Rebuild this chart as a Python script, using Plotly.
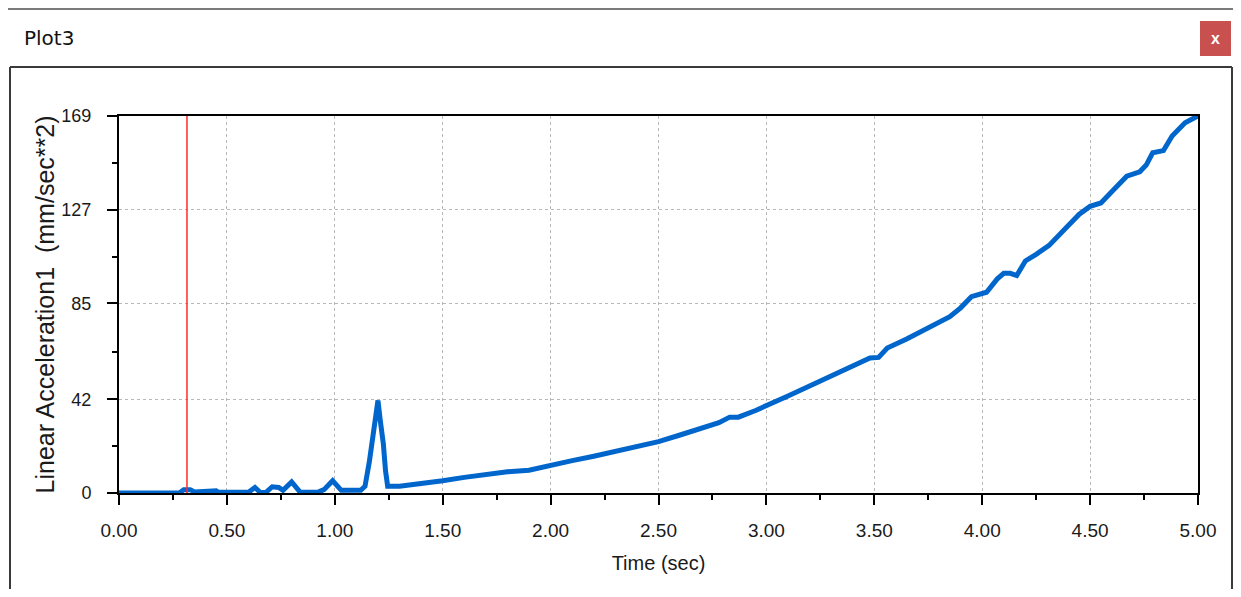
import plotly.graph_objects as go

# ---- data ----
time_s = [0.00, 0.28, 0.30, 0.33, 0.35, 0.40, 0.42, 0.45, 0.46, 0.60, 0.63, 0.655, 0.68,
          0.71, 0.74, 0.76, 0.80, 0.84, 0.92, 0.95, 0.99, 1.03, 1.12, 1.14, 1.16, 1.175,
          1.19, 1.20, 1.21, 1.225, 1.235, 1.245, 1.30, 1.35, 1.40, 1.45, 1.50, 1.60, 1.70,
          1.80, 1.90, 2.00, 2.10, 2.20, 2.30, 2.40, 2.50, 2.60, 2.70, 2.78, 2.83, 2.87,
          2.95, 3.00, 3.10, 3.20, 3.30, 3.40, 3.48, 3.52, 3.56, 3.65, 3.75, 3.85, 3.90,
          3.95, 4.02, 4.07, 4.10, 4.13, 4.16, 4.20, 4.25, 4.31, 4.39, 4.45, 4.50, 4.55,
          4.60, 4.67, 4.73, 4.76, 4.79, 4.84, 4.88, 4.94, 5.00]
accel = [0.0, 0.0, 1.5, 1.5, 0.5, 0.5, 1.0, 1.0, 0.3, 0.3, 2.5, 0.2, 0.2,
         2.8, 2.5, 1.2, 5.0, 0.3, 0.3, 1.5, 5.5, 1.2, 1.2, 3.0, 14.0, 25.0,
         33.0, 41.5, 33.0, 22.0, 10.0, 3.0, 3.0, 3.5, 4.2, 4.8, 5.5, 7.0, 8.5,
         9.5, 10.2, 12.5, 14.5, 16.5, 18.5, 21.0, 23.0, 26.0, 29.0, 31.5, 34.0, 34.0,
         37.0, 39.0, 43.5, 48.0, 52.5, 57.0, 60.5, 60.8, 65.0, 69.0, 74.0, 79.0, 83.0,
         88.0, 90.0, 96.0, 98.5, 98.5, 97.5, 104.0, 107.0, 111.0, 119.0, 125.0, 128.5, 130.0,
         135.0, 142.0, 144.0, 147.0, 152.5, 153.5, 160.0, 166.0, 169.0]

y_ticks = [0, 42, 85, 127, 169]
y_minor_ticks = [21, 63, 106, 148]
x_ticks = [0.0, 0.5, 1.0, 1.5, 2.0, 2.5, 3.0, 3.5, 4.0, 4.5, 5.0]
x_tick_labels = ["0.00", "0.50", "1.00", "1.50", "2.00", "2.50", "3.00", "3.50", "4.00", "4.50", "5.00"]
cursor_time = 0.315

panel_title = "Plot3"
x_title = "Time (sec)"
y_title = "Linear Acceleration1\u00a0 (mm/sec**2)"

# ---- layout geometry (window pixels; page body has an 8px default margin) ----
OFF = 8
WIN_W, WIN_H = 1241, 597
W, H = WIN_W - OFF, WIN_H - 2 * OFF
L, R, T, B = 119, 1198, 116, 493   # plot area in window pixels


def px(x):
    return (x - L) / (R - L)


def py(y):
    return (B - y) / (B - T)


FONT = "Liberation Sans, Arial, sans-serif"

fig = go.Figure()
fig.add_trace(go.Scatter(
    x=time_s, y=accel, mode="lines",
    line=dict(color="#0066cc", width=5),
    hoverinfo="x+y", showlegend=False,
))

fig.add_vline(x=cursor_time, line=dict(color="#ff2a2a", width=1.5), layer="above")

fig.update_layout(
    width=W, height=H, autosize=False,
    margin=dict(l=L - OFF, r=(OFF + W) - R, t=T - OFF, b=(OFF + H) - B, pad=0),
    paper_bgcolor="white", plot_bgcolor="white",
    font=dict(family=FONT, color="#1a1a1a"),
    showlegend=False,
)

fig.update_xaxes(
    range=[0, 5], tickvals=x_ticks, ticktext=x_tick_labels,
    showline=True, linecolor="black", linewidth=2, mirror=True,
    ticks="outside", ticklen=10, tickwidth=2, tickcolor="black",
    ticklabelstandoff=9,
    tickfont=dict(size=19, family=FONT, color="#1a1a1a"),
    showgrid=True, gridcolor="#b8b8b8", griddash="dot", gridwidth=1,
    zeroline=False,
    minor=dict(dtick=0.25, tick0=0, ticks="outside", ticklen=5, tickwidth=2,
               tickcolor="black", showgrid=False),
    title=dict(text=x_title, font=dict(size=20, family=FONT, color="#1a1a1a"), standoff=16),
)
fig.update_yaxes(
    range=[0, 169], tickvals=y_ticks,
    showline=True, linecolor="black", linewidth=2, mirror=True,
    ticks="outside", ticklen=10, tickwidth=2, tickcolor="black",
    ticklabelstandoff=12,
    tickfont=dict(size=18, family=FONT, color="#1a1a1a"),
    showgrid=True, gridcolor="#b8b8b8", griddash="dot", gridwidth=1,
    zeroline=False,
    minor=dict(tickmode="array", tickvals=y_minor_ticks, ticks="outside", ticklen=5,
               tickwidth=2, tickcolor="black", showgrid=False),
    title=dict(text=y_title, font=dict(size=25, family=FONT, color="#1a1a1a"), standoff=0),
)

# ---- window decorations ----
shapes = [
    # top grey separator
    dict(type="line", xref="paper", yref="paper", x0=px(OFF), x1=px(WIN_W), y0=py(9), y1=py(9),
         line=dict(color="#7a7a7a", width=2)),
    # panel border (left, top, right drawn as lines)
    dict(type="line", xref="paper", yref="paper", x0=px(10), x1=px(1232), y0=py(67), y1=py(67),
         line=dict(color="#3a3a3a", width=2)),
    dict(type="line", xref="paper", yref="paper", x0=px(10), x1=px(10), y0=py(67), y1=py(WIN_H),
         line=dict(color="#3a3a3a", width=2)),
    dict(type="line", xref="paper", yref="paper", x0=px(1232), x1=px(1232), y0=py(67), y1=py(WIN_H),
         line=dict(color="#3a3a3a", width=2)),
    # close button
    dict(type="rect", xref="paper", yref="paper", x0=px(1200), x1=px(1231), y0=py(21), y1=py(56),
         line=dict(width=0), fillcolor="#c8504f"),
]
for s in shapes:
    fig.add_shape(**s)

fig.add_annotation(xref="paper", yref="paper", x=px(22), y=py(38), xanchor="left", yanchor="middle",
                   text=panel_title, showarrow=False,
                   font=dict(size=20, family="DejaVu Sans, sans-serif", color="#111111"))
fig.add_annotation(xref="paper", yref="paper", x=px(1215.5), y=py(38), xanchor="center", yanchor="middle",
                   text="<b>x</b>", showarrow=False,
                   font=dict(size=16, family=FONT, color="white"))

fig.write_html("out.html")
